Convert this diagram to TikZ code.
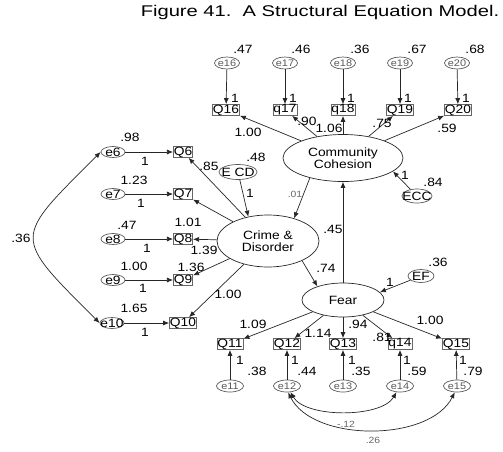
\documentclass[tikz,border=0pt]{standalone}
\usepackage{fontspec}
\setmainfont{Liberation Sans}[FakeStretch=1.15]
\newfontfamily\titlefont{Liberation Sans}[FakeStretch=1.3]
\usetikzlibrary{shapes.geometric, arrows.meta}
\tikzstyle{latent} = [ellipse, draw=black!85, inner sep=0pt, align=center, font=\fontsize{12}{11.5}\selectfont]
\tikzstyle{obs} = [rectangle, draw=black!60, inner xsep=0.5pt, inner ysep=0pt, minimum height=11pt]
\tikzstyle{err} = [ellipse, draw=black!65, inner sep=-3pt, minimum width=24pt, minimum height=11pt]
\tikzstyle{errsmall} = [err, text=black!65, font=\fontsize{9.5}{10}\selectfont, minimum width=25pt, minimum height=12pt]
\tikzstyle{arrow} = [draw=black!85, -{Latex[length=6pt,width=5pt]}]
\tikzstyle{cov} = [draw=black!85, {Latex[length=6pt,width=5pt]}-{Latex[length=6pt,width=5pt]}]
\tikzstyle{num} = [inner sep=0pt]
\tikzstyle{note} = [inner sep=0pt, text=black!60, font=\fontsize{9}{10}\selectfont]
\tikzstyle{title} = [inner sep=0pt, font=\titlefont\fontsize{15.5}{17}\selectfont]

\begin{document}
\begin{tikzpicture}[x=1pt, y=-1pt, line width=0.7pt, font=\fontsize{12}{13}\selectfont]
    \useasboundingbox (0,0) rectangle (503,451);
    \node[title] (title) at (320,12) {Figure 41.\ \ A Structural Equation Model.};

    % latent variables
    \node[latent, minimum width=120pt, minimum height=47pt] (cc) at (343,158) {Community\\Cohesion};
    \node[latent, minimum width=102pt, minimum height=52pt] (cd) at (268,241) {Crime \&\\Disorder};
    \node[latent, minimum width=82pt, minimum height=34pt] (fear) at (343,300) {Fear};

    % disturbances
    \node[err, minimum width=38pt, minimum height=15pt] (ecd) at (238,172) {E CD};
    \node[err, inner xsep=-4pt, minimum width=30pt, minimum height=14pt] (ecc) at (417,196) {ECC};
    \node[err, minimum width=26pt, minimum height=13pt] (ef) at (421,276) {EF};

    % community cohesion items
    \node[obs] (q16) at (226,110) {Q16};
    \node[obs] (q17) at (285,110) {q17};
    \node[obs] (q18) at (343,110) {q18};
    \node[obs] (q19) at (400,110) {Q19};
    \node[obs] (q20) at (458,110) {Q20};
    \node[errsmall] (e16) at (227,63) {e16};
    \node[errsmall] (e17) at (285,63) {e17};
    \node[errsmall] (e18) at (343,63) {e18};
    \node[errsmall] (e19) at (400,63) {e19};
    \node[errsmall] (e20) at (457,63) {e20};

    % crime and disorder items
    \node[obs] (q6) at (183,152) {Q6};
    \node[obs] (q7) at (183,194) {Q7};
    \node[obs] (q8) at (183,239) {Q8};
    \node[obs] (q9) at (183,280) {Q9};
    \node[obs] (q10) at (183,323) {Q10};
    \node[err] (e6) at (113,152) {e6};
    \node[err] (e7) at (113,194) {e7};
    \node[err] (e8) at (113,239) {e8};
    \node[err] (e9) at (113,280) {e9};
    \node[err] (e10) at (112,323) {e10};

    % fear items
    \node[obs] (q11) at (230,344) {Q11};
    \node[obs] (q12) at (287,344) {Q12};
    \node[obs] (q13) at (343,344) {Q13};
    \node[obs] (q14) at (400,344) {q14};
    \node[obs] (q15) at (456,344) {Q15};
    \node[errsmall, minimum width=27pt] (e11) at (230,386) {e11};
    \node[errsmall, minimum width=27pt] (e12) at (287,386) {e12};
    \node[errsmall, minimum width=27pt] (e13) at (343,386) {e13};
    \node[errsmall, minimum width=27pt] (e14) at (400,386) {e14};
    \node[errsmall, minimum width=27pt] (e15) at (457,386) {e15};

    % structural paths
    \draw[arrow] (cc.211) -- (cd.41);
    \draw[arrow] (cd.330) -- (fear.152);
    \draw[arrow] (fear) -- (cc);
    \draw[arrow] (ecd) -- (cd.129);
    \draw[arrow] (ecc) -- (cc.345);
    \draw[arrow] (ef) -- (fear.12);

    % measurement paths
    \draw[arrow] (cc) -- (q16);
    \draw[arrow] (cc) -- (q17);
    \draw[arrow] (cc) -- (q18);
    \draw[arrow] (cc) -- (q19);
    \draw[arrow] (cc) -- (q20);
    \draw[arrow] (e16) -- (q16);
    \draw[arrow] (e17) -- (q17);
    \draw[arrow] (e18) -- (q18);
    \draw[arrow] (e19) -- (q19);
    \draw[arrow] (e20) -- (q20);
    \draw[arrow] (cd) -- (q6);
    \draw[arrow] (cd) -- (q7);
    \draw[arrow] (cd) -- (q8);
    \draw[arrow] (cd) -- (q9);
    \draw[arrow] (cd) -- (q10);
    \draw[arrow] (e6) -- (q6);
    \draw[arrow] (e7) -- (q7);
    \draw[arrow] (e8) -- (q8);
    \draw[arrow] (e9) -- (q9);
    \draw[arrow] (e10) -- (q10);
    \draw[arrow] (fear) -- (q11);
    \draw[arrow] (fear) -- (q12);
    \draw[arrow] (fear) -- (q13);
    \draw[arrow] (fear) -- (q14);
    \draw[arrow] (fear) -- (q15);
    \draw[arrow] (e11) -- (q11);
    \draw[arrow] (e12) -- (q12);
    \draw[arrow] (e13) -- (q13);
    \draw[arrow] (e14) -- (q14);
    \draw[arrow] (e15) -- (q15);

    % covariances
    \draw[cov] (e6.west) .. controls +(-88,88) and +(-88,-88) .. (e10.west);
    \draw[cov] (e12.-60) .. controls +(15,26) and +(-15,26) .. (e14.-120);
    \draw[cov] (e12.-80) .. controls +(25,50) and +(-25,50) .. (e15.-110);

    % estimates, top
    \node[num] (v16) at (243,49) {.47};
    \node[num] (v17) at (301,49) {.46};
    \node[num] (v18) at (360,49) {.36};
    \node[num] (v19) at (417,49) {.67};
    \node[num] (v20) at (475,49) {.68};
    \node[num] (f16) at (235,98) {1};
    \node[num] (f17) at (293,98) {1};
    \node[num] (f18) at (351,98) {1};
    \node[num] (f19) at (408,98) {1};
    \node[num] (f20) at (466,98) {1};
    \node[num] (l16) at (248,132) {1.00};
    \node[num] (l17) at (307,121) {.90};
    \node[num] (l18) at (329,128) {1.06};
    \node[num] (l19) at (382,123) {.75};
    \node[num] (l20) at (447,128) {.59};

    % estimates, structural part
    \node[num] (vcd) at (256,157) {.48};
    \node[num] (fcd) at (250,193) {1};
    \node[note] (bcccd) at (295,194) {.01};
    \node[num] (vcc) at (433,182) {.84};
    \node[num] (fcc) at (405,175) {1};
    \node[num] (bfcc) at (333,229) {.45};
    \node[num] (bcdf) at (326,268) {.74};
    \node[num] (vf) at (438,262) {.36};
    \node[num] (ff) at (390,282) {1};

    % estimates, left
    \node[num] (v6) at (130,137) {.98};
    \node[num] (v7) at (134,180) {1.23};
    \node[num] (v8) at (127,225) {.47};
    \node[num] (v9) at (134,266) {1.00};
    \node[num] (v10) at (134,308) {1.65};
    \node[num] (f6) at (145,161) {1};
    \node[num] (f7) at (141,203) {1};
    \node[num] (f8) at (147,248) {1};
    \node[num] (f9) at (143,288) {1};
    \node[num] (f10) at (145,332) {1};
    \node[num] (l6) at (209,166) {.85};
    \node[num] (l7) at (188,222) {1.01};
    \node[num] (l8) at (204,250) {1.39};
    \node[num] (l9) at (191,267) {1.36};
    \node[num] (l10) at (228,294) {1.00};
    \node[num] (c610) at (21,238) {.36};

    % estimates, bottom
    \node[num] (l11) at (253,324) {1.09};
    \node[num] (l12) at (318,333) {1.14};
    \node[num] (l13) at (358,324) {.94};
    \node[num] (l14) at (382,337) {.81};
    \node[num] (l15) at (430,320) {1.00};
    \node[num] (f11) at (240,360) {1};
    \node[num] (f12) at (295,360) {1};
    \node[num] (f13) at (352,360) {1};
    \node[num] (f14) at (407,360) {1};
    \node[num] (f15) at (463,360) {1};
    \node[num] (v11) at (257,371) {.38};
    \node[num] (v12) at (307,371) {.44};
    \node[num] (v13) at (361,371) {.35};
    \node[num] (v14) at (417,371) {.59};
    \node[num] (v15) at (473,371) {.79};
    \node[note] (c1214) at (346,424) {-.12};
    \node[note] (c1215) at (373,440) {.26};
\end{tikzpicture}
\end{document}
